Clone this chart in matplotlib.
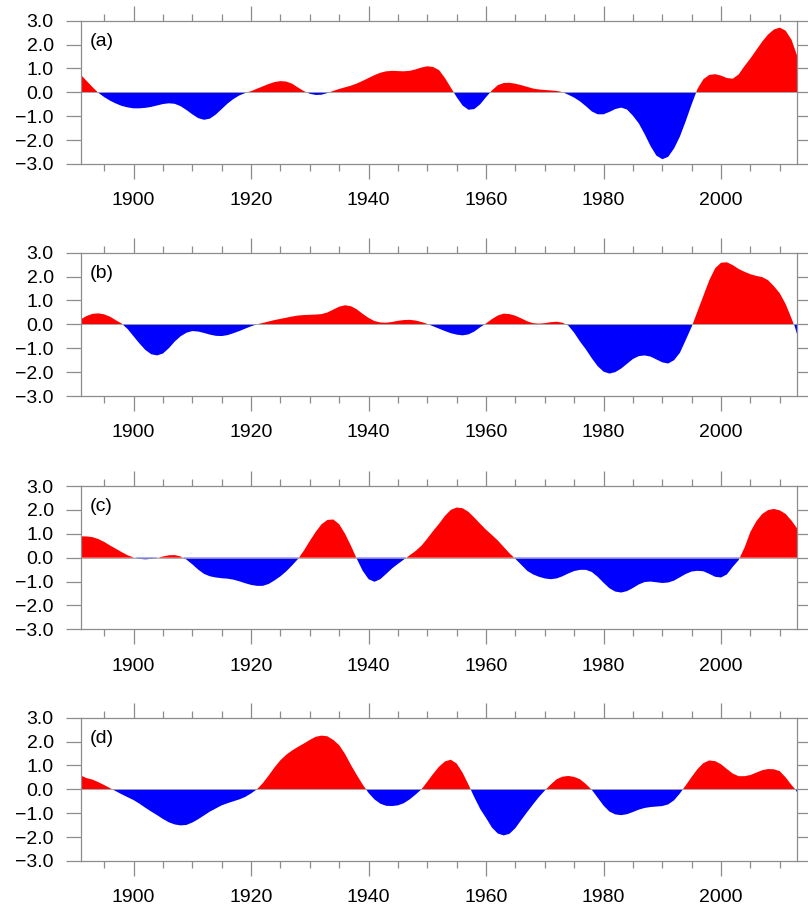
import matplotlib
matplotlib.use("Agg")
import matplotlib.pyplot as plt
import numpy as np
from matplotlib.ticker import MultipleLocator, FuncFormatter

plt.rcParams["font.family"] = ["Liberation Sans", "DejaVu Sans"]

years = np.arange(1891, 2014)

# annual values, 1891..2013
series_a = [
    0.74, 0.48, 0.22, -0.02, -0.20, -0.35, -0.47, -0.57, -0.63,
    -0.67, -0.67, -0.65, -0.61, -0.55, -0.49, -0.46, -0.48, -0.58, -0.74,
    -0.92, -1.08, -1.15, -1.10, -0.93, -0.70, -0.47, -0.28, -0.13, -0.03,
    0.05, 0.15, 0.25, 0.35, 0.43, 0.47, 0.45, 0.36, 0.20, 0.05,
    -0.06, -0.11, -0.10, -0.03, 0.06, 0.14, 0.21, 0.28, 0.37, 0.48,
    0.60, 0.72, 0.82, 0.88, 0.90, 0.89, 0.88, 0.90, 0.96, 1.04,
    1.09, 1.06, 0.93, 0.60, 0.20, -0.20, -0.55, -0.73, -0.70, -0.50,
    -0.20, 0.08, 0.30, 0.39, 0.40, 0.36, 0.30, 0.23, 0.16, 0.12,
    0.10, 0.08, 0.06, 0.01, -0.10, -0.22, -0.38, -0.58, -0.80, -0.92,
    -0.92, -0.82, -0.70, -0.64, -0.72, -0.98, -1.30, -1.75, -2.25, -2.65,
    -2.80, -2.70, -2.35, -1.85, -1.20, -0.50, 0.15, 0.55, 0.73, 0.76,
    0.70, 0.60, 0.57, 0.75, 1.10, 1.42, 1.77, 2.12, 2.42, 2.63,
    2.71, 2.58, 2.20, 1.50,
]

series_b = [
    0.21, 0.35, 0.44, 0.46, 0.42, 0.32, 0.17, 0.03, -0.20,
    -0.50, -0.80, -1.07, -1.25, -1.30, -1.22, -1.00, -0.72, -0.50, -0.35,
    -0.28, -0.30, -0.36, -0.43, -0.48, -0.49, -0.45, -0.37, -0.28, -0.18,
    -0.08, 0.00, 0.06, 0.12, 0.18, 0.23, 0.28, 0.33, 0.37, 0.39,
    0.40, 0.41, 0.43, 0.50, 0.62, 0.74, 0.80, 0.76, 0.63, 0.44,
    0.27, 0.14, 0.08, 0.07, 0.10, 0.15, 0.18, 0.19, 0.16, 0.10,
    0.02, -0.08, -0.18, -0.28, -0.37, -0.43, -0.46, -0.42, -0.30, -0.12,
    0.04, 0.22, 0.37, 0.45, 0.43, 0.36, 0.25, 0.13, 0.05, 0.03,
    0.05, 0.09, 0.11, 0.07, -0.05, -0.35, -0.72, -1.05, -1.42, -1.75,
    -1.98, -2.06, -2.00, -1.85, -1.65, -1.45, -1.33, -1.30, -1.35, -1.47,
    -1.59, -1.64, -1.50, -1.19, -0.65, -0.10, 0.55, 1.20, 1.85, 2.35,
    2.58, 2.60, 2.48, 2.32, 2.20, 2.10, 2.03, 1.98, 1.85, 1.60,
    1.30, 0.85, 0.25, -0.42,
]

series_c = [
    0.89, 0.89, 0.86, 0.78, 0.66, 0.51, 0.37, 0.23, 0.10,
    0.01, -0.05, -0.07, -0.05, -0.01, 0.05, 0.10, 0.11, 0.05, -0.08,
    -0.28, -0.50, -0.68, -0.78, -0.83, -0.86, -0.88, -0.92, -0.99, -1.07,
    -1.14, -1.18, -1.18, -1.10, -0.95, -0.78, -0.57, -0.32, -0.05, 0.30,
    0.70, 1.08, 1.40, 1.58, 1.60, 1.40, 1.00, 0.50, -0.05, -0.55,
    -0.90, -1.01, -0.90, -0.68, -0.45, -0.26, -0.08, 0.10, 0.28, 0.50,
    0.80, 1.12, 1.42, 1.75, 2.00, 2.10, 2.07, 1.92, 1.68, 1.42,
    1.17, 0.95, 0.72, 0.45, 0.18, -0.05, -0.30, -0.55, -0.70, -0.80,
    -0.87, -0.90, -0.87, -0.78, -0.66, -0.56, -0.51, -0.51, -0.60, -0.80,
    -1.05, -1.28, -1.42, -1.46, -1.40, -1.27, -1.12, -1.02, -1.00, -1.03,
    -1.06, -1.04, -0.96, -0.82, -0.68, -0.58, -0.55, -0.57, -0.68, -0.80,
    -0.83, -0.70, -0.38, -0.10, 0.42, 1.08, 1.52, 1.83, 1.99, 2.04,
    1.98, 1.83, 1.55, 1.21,
]

series_d = [
    0.58, 0.47, 0.41, 0.30, 0.18, 0.05, -0.08, -0.21, -0.33,
    -0.45, -0.60, -0.77, -0.93, -1.08, -1.24, -1.38, -1.47, -1.51, -1.49,
    -1.39, -1.25, -1.09, -0.93, -0.80, -0.67, -0.58, -0.50, -0.42, -0.32,
    -0.17, 0.00, 0.26, 0.58, 0.92, 1.22, 1.45, 1.63, 1.78, 1.92,
    2.07, 2.20, 2.25, 2.22, 2.07, 1.85, 1.48, 1.02, 0.60, 0.20,
    -0.15, -0.42, -0.60, -0.69, -0.70, -0.67, -0.58, -0.42, -0.22, 0.00,
    0.32, 0.65, 0.95, 1.17, 1.24, 1.08, 0.70, 0.20, -0.33, -0.82,
    -1.20, -1.60, -1.85, -1.93, -1.86, -1.62, -1.28, -0.95, -0.63, -0.32,
    -0.05, 0.20, 0.42, 0.53, 0.56, 0.52, 0.42, 0.22, -0.02, -0.35,
    -0.68, -0.93, -1.05, -1.08, -1.04, -0.95, -0.85, -0.78, -0.74, -0.72,
    -0.70, -0.63, -0.46, -0.17, 0.17, 0.52, 0.85, 1.10, 1.21, 1.18,
    1.05, 0.85, 0.66, 0.55, 0.55, 0.60, 0.70, 0.80, 0.85, 0.84,
    0.76, 0.50, 0.18, -0.10,
]

panel_labels = ["(a)", "(b)", "(c)", "(d)"]
panel_series = [series_a, series_b, series_c, series_d]
panel_bottoms = [0.8200, 0.5653, 0.3092, 0.0549]

frame = "#8c8c8c"


def minus_fmt(v, pos):
    return f"{v:.1f}".replace("-", "\u2212")


fig = plt.figure(figsize=(8.08, 9.11), dpi=100)

for label, values, bottom in zip(panel_labels, panel_series, panel_bottoms):
    ax = fig.add_axes([0.0999, bottom, 0.887, 0.1573])
    v = np.asarray(values)
    ax.fill_between(years, 0, v, where=v >= 0, interpolate=True,
                    color="#ff0000", lw=0)
    ax.fill_between(years, 0, v, where=v <= 0, interpolate=True,
                    color="#0000ff", lw=0)
    ax.axhline(0, color="#a0a0a0", lw=0.6)

    ax.set_xlim(1891, 2013)
    ax.set_ylim(-3, 3)
    ax.xaxis.set_major_locator(MultipleLocator(20))
    ax.xaxis.set_minor_locator(MultipleLocator(5))
    ax.yaxis.set_major_locator(MultipleLocator(1))
    ax.yaxis.set_major_formatter(FuncFormatter(minus_fmt))

    for s in ax.spines.values():
        s.set_color(frame)
        s.set_linewidth(0.9)

    ax.tick_params(axis="x", which="major", direction="out", top=True,
                   length=10.5, width=0.9, color=frame, pad=10,
                   labelsize=14, labelcolor="black")
    ax.tick_params(axis="x", which="minor", direction="out", top=True,
                   length=5.3, width=0.9, color=frame)
    ax.tick_params(axis="y", which="major", direction="out", right=True,
                   length=10.5, width=0.9, color=frame, pad=9,
                   labelsize=14, labelcolor="black")

    ax.text(0.013, 0.858, label, transform=ax.transAxes, fontsize=14,
            ha="left", va="center")

fig.savefig("out.png", dpi=100)
